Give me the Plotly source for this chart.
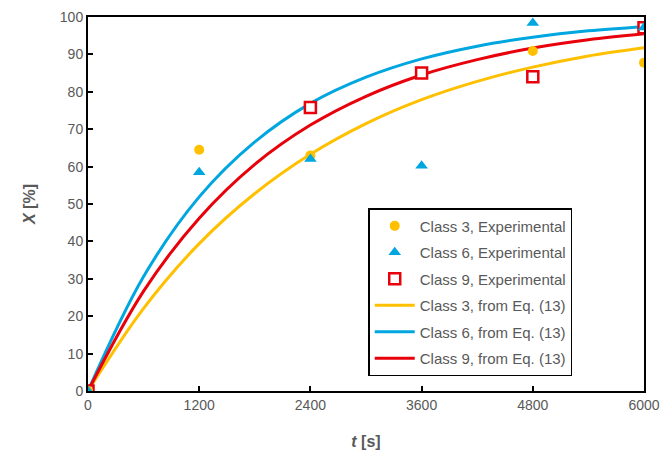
import plotly.graph_objects as go

# Experimental data
t_exp = [0, 1200, 2400, 3600, 4800, 6000]
c3_exp = [0, 64.5, 63.0, None, 90.9, 87.8]
c6_exp = [0, 58.5, 62.0, 60.2, 98.4, 97.2]
c9_exp = [0, None, 75.8, 85.0, 84.0, 97.1]

# Model curves
t_fit = [0, 600, 1200, 1800, 2400, 3000, 3600, 4200, 4800, 5400, 6000]
c3_fit = [0, 22.1, 39.4, 52.8, 63.3, 71.5, 77.9, 82.8, 86.6, 89.6, 91.8]
c6_fit = [0, 30.6, 51.9, 66.6, 76.9, 83.9, 88.8, 92.2, 94.6, 96.3, 97.4]
c9_fit = [0, 26.7, 46.2, 60.6, 71.1, 78.8, 84.5, 88.6, 91.7, 93.9, 95.5]

x_ticks = [0, 1200, 2400, 3600, 4800, 6000]
y_ticks = [0, 10, 20, 30, 40, 50, 60, 70, 80, 90, 100]

YEL = "#FFC000"
BLU = "#00A6E0"
RED = "#E8000B"

fig = go.Figure()
fig.add_trace(go.Scatter(x=t_fit, y=c3_fit, mode="lines", line=dict(color=YEL, width=3, shape="spline"),
                         name="Class 3, from Eq. (13)", legendrank=4, legendgroup="g4"))
fig.add_trace(go.Scatter(x=t_fit, y=c6_fit, mode="lines", line=dict(color=BLU, width=3, shape="spline"),
                         name="Class 6, from Eq. (13)", legendrank=5, legendgroup="g5"))
fig.add_trace(go.Scatter(x=t_fit, y=c9_fit, mode="lines", line=dict(color=RED, width=3, shape="spline"),
                         name="Class 9, from Eq. (13)", legendrank=6, legendgroup="g6"))
fig.add_trace(go.Scatter(x=t_exp, y=c9_exp, mode="markers",
                         marker=dict(symbol="square", size=11, color="white", line=dict(color=RED, width=2.5)),
                         name="Class 9, Experimental", legendrank=3, legendgroup="g3"))
fig.add_trace(go.Scatter(x=t_exp, y=c3_exp, mode="markers",
                         marker=dict(symbol="circle", size=10, color=YEL),
                         name="Class 3, Experimental", legendrank=1, legendgroup="g1"))
fig.add_trace(go.Scatter(x=t_exp, y=c6_exp, mode="markers",
                         marker=dict(symbol="triangle-up", size=11, color=BLU),
                         name="Class 6, Experimental", legendrank=2, legendgroup="g2"))

font = dict(family="Liberation Sans, Arial, sans-serif", size=14, color="#595959")

fig.update_layout(
    width=662, height=454,
    margin=dict(l=88, r=18, t=17, b=63),
    paper_bgcolor="white", plot_bgcolor="white",
    font=font,
    showlegend=True,
    legend=dict(x=0.504, y=0.489, xanchor="left", yanchor="top",
                bordercolor="black", borderwidth=1.5, bgcolor="white",
                font=dict(size=15, color="#595959"), tracegroupgap=4,
                itemwidth=40),
    xaxis=dict(range=[0, 6000], tickvals=x_ticks, ticks="inside", ticklen=5, tickwidth=1.5,
               tickcolor="black", showline=True, linecolor="black", linewidth=2, mirror=True,
               showgrid=False, zeroline=False, automargin=False,
               title=dict(text="<b><i>t</i> [s]</b>", font=dict(size=16, color="#595959"), standoff=24)),
    yaxis=dict(range=[0, 100], tickvals=y_ticks, ticks="inside", ticklen=5, tickwidth=1.5,
               tickcolor="black", showline=True, linecolor="black", linewidth=2, mirror=True,
               showgrid=False, zeroline=False, automargin=False,
               title=dict(text="<b><i>X</i> [%]</b>", font=dict(size=16, color="#595959"), standoff=20)),
)

fig.write_html("out.html")
